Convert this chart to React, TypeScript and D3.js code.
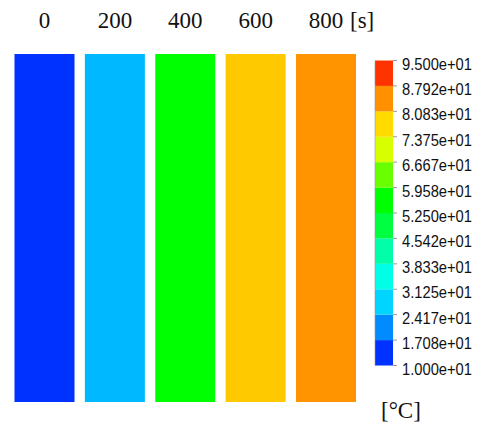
import React from 'react';
import * as d3 from 'd3';

// time steps [s] and bar temperatures [°C]
const times = [0, 200, 400, 600, 800];
const temps = [13.5, 25, 56, 79, 84];

// legend levels and labels
const levels = [10, 17.08, 24.17, 31.25, 38.33, 45.42, 52.5, 59.58, 66.67, 73.75, 80.83, 87.92, 95];
const levelLabels = ['1.000e+01', '1.708e+01', '2.417e+01', '3.125e+01', '3.833e+01', '4.542e+01',
  '5.250e+01', '5.958e+01', '6.667e+01', '7.375e+01', '8.083e+01', '8.792e+01', '9.500e+01'];
const bandColors = ['#0032ff', '#008cff', '#00d4ff', '#00ffe6', '#00ffa8', '#00ff40',
  '#00ff00', '#6aff00', '#d7ff00', '#ffdb00', '#ff9000', '#ff3300'];

const W = 481, H = 428;

export default function App() {
  // bar centres along time
  const x = d3.scaleLinear().domain([0, 800]).range([44.5, 326]);
  const bw = 60;
  const barTop = 54, barBottom = 402;

  const mids = levels.slice(0, -1).map((v, i) => (v + levels[i + 1]) / 2);
  const color = d3.scaleLinear<string>().domain(mids).range(bandColors).clamp(true);

  const ly = d3.scaleLinear().domain([10, 95]).range([365.5, 60.5]);
  const lx0 = 375, lx1 = 393;
  const serif = "'Liberation Serif', serif";

  return (
    <svg width={W} height={H} style={{ position: 'absolute', left: 0, top: 0, background: '#fff' }}>
      {times.map((t, i) => (
        <rect key={t} x={x(t) - bw / 2} y={barTop} width={bw} height={barBottom - barTop} fill={color(temps[i])} />
      ))}
      {times.map((t) => (
        <text key={'l' + t} x={x(t)} y={28} textAnchor="middle"
          fontFamily={serif} fontSize={23} fill="#111">{t}</text>
      ))}
      <text x={350} y={28} fontFamily={serif} fontSize={23} fill="#111">[s]</text>

      {bandColors.map((c, i) => (
        <rect key={c} x={lx0} y={ly(levels[i + 1])} width={lx1 - lx0} height={ly(levels[i]) - ly(levels[i + 1])} fill={c} />
      ))}
      <line x1={lx0} x2={lx0} y1={ly(10)} y2={ly(95)} stroke="#999" strokeWidth={0.6} />
      {levels.map((v, i) => (
        <g key={v}>
          <line x1={lx1} x2={lx1 + 4} y1={ly(v)} y2={ly(v)} stroke="#999" strokeWidth={1} />
          <text x={402} y={ly(v) + 9} fontFamily="'Liberation Sans', Arial, sans-serif"
            fontSize={16} textLength={70} lengthAdjust="spacingAndGlyphs" fill="#111">{levelLabels[i]}</text>
        </g>
      ))}
      <text x={381} y={418} fontFamily={serif} fontSize={23} fill="#111">[°C]</text>
    </svg>
  );
}
